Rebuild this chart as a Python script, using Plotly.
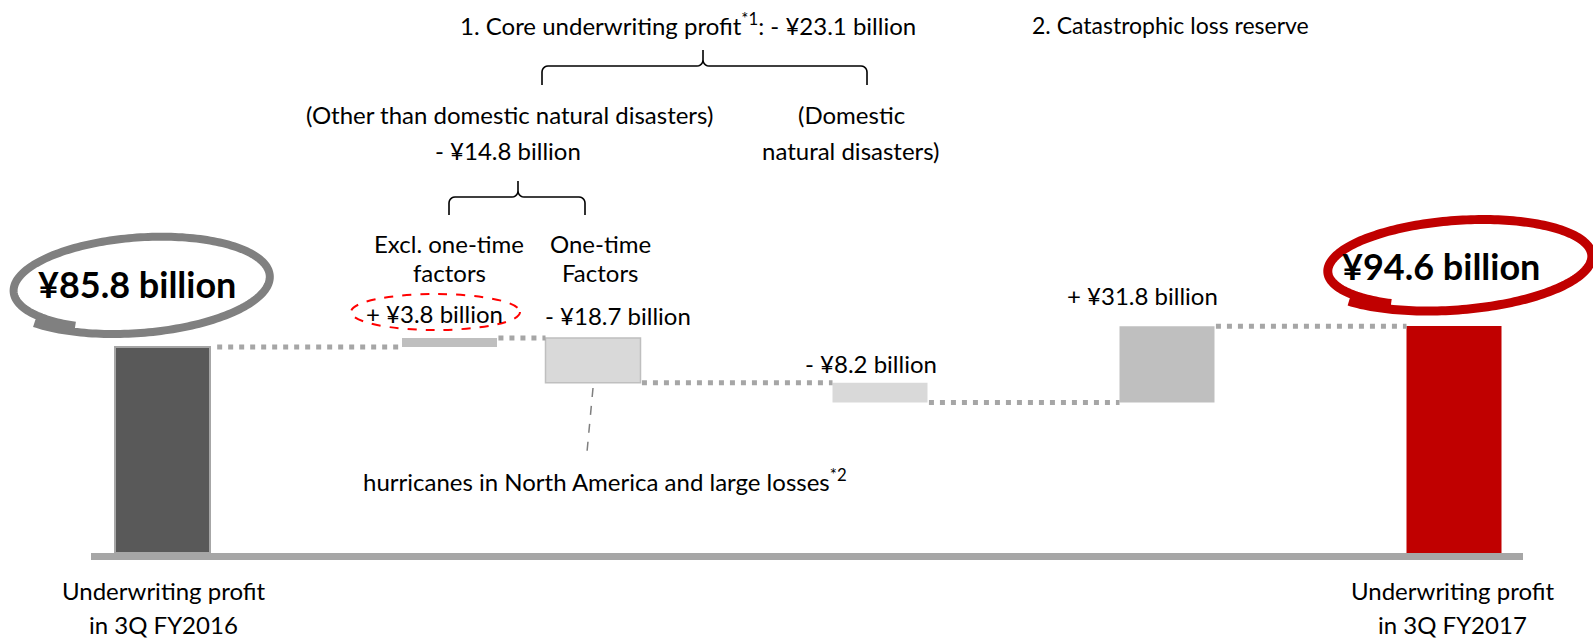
import numpy as np
import plotly.graph_objects as go

W, H = 1593, 639
FONT = "Lato"

# ---- data ----
start_label = ["Underwriting profit", "in 3Q FY2016"]
end_label = ["Underwriting profit", "in 3Q FY2017"]
start_value = 85.8
step_names = ["Excl. one-time factors", "One-time factors",
              "Domestic natural disasters", "Catastrophic loss reserve"]
step_deltas = [3.8, -18.7, -8.2, 31.8]
end_value = 94.6
group_core_total = "- ¥23.1 billion"
group_other_total = "- ¥14.8 billion"

# ---- layout constants ----
slot_x = [0, 2, 3, 5, 7, 9]      # horizontal slot of each bar
bar_w = 0.662
px_per_unit_x = 143.5
x0_px = 162.5
y0_px = 553.0
px_per_unit_y = 2.40

colors = ["#595959", "#bfbfbf", "#d9d9d9", "#d9d9d9", "#bfbfbf", "#c00000"]
line_colors = ["#a6a6a6", "#bfbfbf", "#bfbfbf", "#d9d9d9", "#bfbfbf", "#c00000"]
line_widths = [2, 0, 1.5, 0, 0, 0]

# running totals -> bar bases and heights
levels = [start_value]
for d in step_deltas:
    levels.append(round(levels[-1] + d, 1))
bases = [0.0]
heights = [start_value]
for i, d in enumerate(step_deltas):
    bases.append(min(levels[i], levels[i + 1]))
    heights.append(abs(d))
bases.append(0.0)
heights.append(end_value)

fig = go.Figure()
fig.add_trace(go.Bar(
    x=slot_x, y=heights, base=bases, width=bar_w,
    marker=dict(color=colors, line=dict(color=line_colors, width=line_widths)),
    hoverinfo="skip", showlegend=False,
))

# dotted connectors between consecutive bars
cx, cy = [], []
for i in range(len(slot_x) - 1):
    gap = 0.05 if i == 0 else 0.01
    cx += [slot_x[i] + bar_w / 2 + gap, slot_x[i + 1] - bar_w / 2, None]
    cy += [levels[i], levels[i], None]
fig.add_trace(go.Scatter(
    x=cx, y=cy, mode="lines",
    line=dict(color="#a6a6a6", width=5, dash="5px,6px"),
    hoverinfo="skip", showlegend=False,
))


def px(x):
    return x / W


def py(y):
    return 1 - y / H


def fmt(d):
    sign = "+" if d > 0 else "-"
    return f"{sign} ¥{abs(d):.1f} billion"


annotations = []


def text(s, x, y, size=24, bold=False, color="#000000"):
    if bold:
        s = f"<b>{s}</b>"
    annotations.append(dict(
        text=s, x=px(x), y=py(y), xref="paper", yref="paper",
        xanchor="center", yanchor="middle", showarrow=False,
        font=dict(family=FONT, size=size, color=color),
    ))


# headings
text(f"1. Core underwriting profit<sup>*1</sup>: {group_core_total}", 688, 24)
text("2. Catastrophic loss reserve", 1170, 25, size=23)
text("(Other than domestic natural disasters)", 509, 115)
text(group_other_total, 508, 150)
text("(Domestic", 851, 115)
text("natural disasters)", 851, 150)
text("Excl. one-time", 449, 244)
text("factors", 449, 273)
text("One-time", 600, 244)
text("Factors", 600, 273)

# step value labels
label_pos = [(434, 313), (618, 315), (871, 363), (1142, 295)]
for d, (lx, ly) in zip(step_deltas, label_pos):
    text(fmt(d), lx, ly)

text("hurricanes in North America and large losses<sup>*2</sup>", 605, 480)

# totals
text(f"¥{start_value:.1f} billion", 137, 284, size=36, bold=True)
text(f"¥{end_value:.1f} billion", 1441, 266, size=36, bold=True)

# category labels under the axis
text(start_label[0], 163, 590)
text(start_label[1], 163, 624)
text(end_label[0], 1452, 590)
text(end_label[1], 1452, 624)

shapes = []


def path_from(points):
    pts = [f"{px(x):.5f},{py(y):.5f}" for x, y in points]
    return "M " + " L ".join(pts)


def loop(cxp, cyp, rx, ry, rot_deg, t0, sweep, grow):
    t = np.linspace(t0, t0 + sweep, 220)
    f = 1 - grow / 2 + grow * (t - t0) / sweep
    xs = rx * f * np.cos(t)
    ys = ry * f * np.sin(t)
    a = np.deg2rad(rot_deg)
    xr = cxp + xs * np.cos(a) - ys * np.sin(a)
    yr = cyp + xs * np.sin(a) + ys * np.cos(a)
    return list(zip(xr, yr))


# hand-drawn style loops around the totals
shapes.append(dict(type="path", xref="paper", yref="paper",
                   path=path_from(loop(138, 284, 130, 47, -4, 0.68 * np.pi, 2.1 * np.pi, 0.12)),
                   line=dict(color="#808080", width=8)))
shapes.append(dict(type="path", xref="paper", yref="paper",
                   path=path_from(loop(1456, 264, 134, 44, -4, 0.68 * np.pi, 2.1 * np.pi, 0.12)),
                   line=dict(color="#c00000", width=9)))

# dashed red ellipse around the +3.8 label
shapes.append(dict(type="circle", xref="paper", yref="paper",
                   x0=px(351), x1=px(520), y0=py(294), y1=py(330),
                   line=dict(color="#ff0000", width=2, dash="dash")))


def brace(xl, xr, xt, y_end, y_bar, y_tip, r=6):
    quarter = [np.pi / 2 * k / 5 for k in range(1, 6)]
    pts = [(xl, y_end), (xl, y_bar + r)]
    pts += [(xl + r - r * np.cos(a), y_bar + r - r * np.sin(a)) for a in quarter]
    pts += [(xt - r, y_bar)]
    pts += [(xt - r + r * np.sin(a), y_bar - r + r * np.cos(a)) for a in quarter]
    pts += [(xt, y_tip), (xt, y_bar - r)]
    pts += [(xt + r - r * np.cos(a), y_bar - r + r * np.sin(a)) for a in quarter]
    pts += [(xr - r, y_bar)]
    pts += [(xr - r + r * np.sin(a), y_bar + r - r * np.cos(a)) for a in quarter]
    pts += [(xr, y_end)]
    return pts


shapes.append(dict(type="path", xref="paper", yref="paper",
                   path=path_from(brace(542, 867, 703, 85, 66, 50)),
                   line=dict(color="#000000", width=1.6)))
shapes.append(dict(type="path", xref="paper", yref="paper",
                   path=path_from(brace(449, 585, 518, 215, 197, 181)),
                   line=dict(color="#000000", width=1.6)))

# leader line from the one-time factors bar
shapes.append(dict(type="line", xref="paper", yref="paper",
                   x0=px(593), y0=py(388), x1=px(587), y1=py(452),
                   line=dict(color="#7f7f7f", width=1.5, dash="dash")))

# baseline
shapes.append(dict(type="line", xref="paper", yref="paper", layer="below",
                   x0=px(91), x1=px(1523), y0=py(556.5), y1=py(556.5),
                   line=dict(color="#a6a6a6", width=7)))

x_lo = -x0_px / px_per_unit_x
x_hi = (W - x0_px) / px_per_unit_x
y_hi = y0_px / px_per_unit_y
y_lo = -(H - y0_px) / px_per_unit_y

fig.update_layout(
    width=W, height=H,
    margin=dict(l=0, r=0, t=0, b=0),
    paper_bgcolor="white", plot_bgcolor="white",
    xaxis=dict(range=[x_lo, x_hi], visible=False, fixedrange=True),
    yaxis=dict(range=[y_lo, y_hi], visible=False, fixedrange=True),
    annotations=annotations, shapes=shapes,
    barmode="overlay",
)

fig.write_html("out.html")
